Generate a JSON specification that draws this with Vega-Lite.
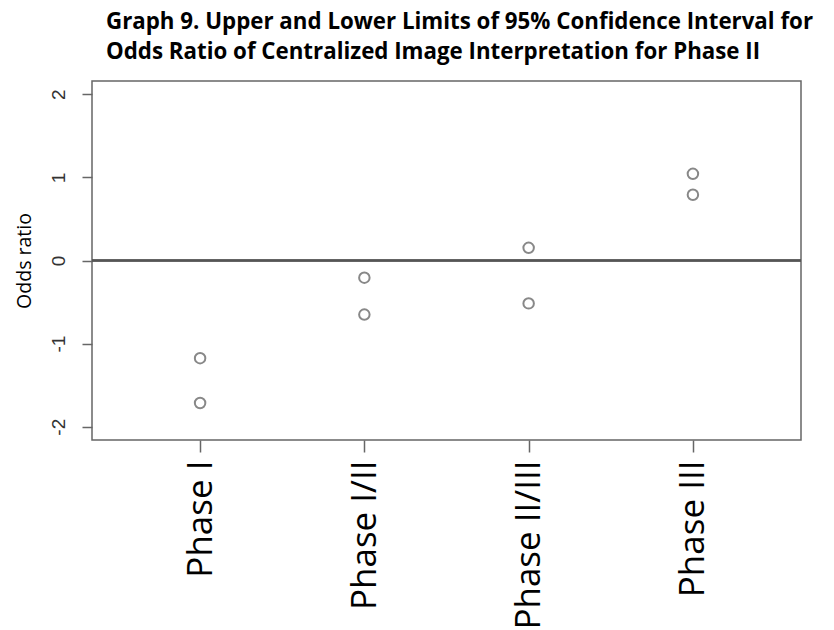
{
  "$schema": "https://vega.github.io/schema/vega-lite/v6.json",
  "autosize": "none",
  "width": 709,
  "height": 359,
  "padding": {"left": 92, "top": 81, "right": 33, "bottom": 190},
  "background": "white",
  "title": {
    "text": ["Graph 9. Upper and Lower Limits of 95% Confidence Interval for", "Odds Ratio of Centralized Image Interpretation for Phase II"],
    "anchor": "start",
    "frame": "group",
    "dx": 14,
    "offset": 18,
    "font": "Open Sans",
    "fontSize": 22.3,
    "fontWeight": "bold",
    "lineHeight": 30,
    "color": "#000000"
  },
  "data": {
    "values": [
      {"phase": "Phase I", "limit": "upper", "value": -1.175},
      {"phase": "Phase I", "limit": "lower", "value": -1.715},
      {"phase": "Phase I/II", "limit": "upper", "value": -0.207},
      {"phase": "Phase I/II", "limit": "lower", "value": -0.651},
      {"phase": "Phase II/III", "limit": "upper", "value": 0.152},
      {"phase": "Phase II/III", "limit": "lower", "value": -0.516},
      {"phase": "Phase III", "limit": "upper", "value": 1.043},
      {"phase": "Phase III", "limit": "lower", "value": 0.791}
    ]
  },
  "layer": [
    {
      "mark": {"type": "rule", "color": "#555555", "strokeWidth": 1.5},
      "encoding": {"y": {"datum": 0, "type": "quantitative"}}
    },
    {
      "mark": {"type": "point", "shape": "circle", "filled": false, "color": "#888888", "strokeWidth": 2, "size": 110, "opacity": 1},
      "encoding": {
        "x": {
          "field": "phase",
          "type": "nominal",
          "sort": ["Phase I", "Phase I/II", "Phase II/III", "Phase III"],
          "scale": {"type": "point", "padding": 0.658},
          "axis": {
            "title": null,
            "labelAngle": -90,
            "labelAlign": "right",
            "labelBaseline": "middle",
            "labelFont": "Open Sans",
            "labelFontSize": 35,
            "labelColor": "#000000",
            "labelPadding": 8,
            "domain": false,
            "tickColor": "#666666",
            "tickSize": 12,
            "tickWidth": 1.5
          }
        },
        "y": {
          "field": "value",
          "type": "quantitative",
          "scale": {"domain": [-2.16, 2.16], "nice": false, "zero": false},
          "axis": {
            "title": "Odds ratio",
            "titleFont": "Open Sans",
            "titleFontSize": 19.5,
            "titleFontWeight": "normal",
            "titleColor": "#000000",
            "titlePadding": 15,
            "values": [-2, -1, 0, 1, 2],
            "labelExpr": "'' + datum.value",
            "labelAngle": -90,
            "labelAlign": "center",
            "labelBaseline": "bottom",
            "labelFont": "Liberation Sans",
            "labelFontSize": 19,
            "labelColor": "#333333",
            "labelPadding": 14,
            "grid": false,
            "domain": false,
            "tickColor": "#666666",
            "tickSize": 10,
            "tickWidth": 1.5
          }
        }
      }
    }
  ],
  "config": {
    "view": {"stroke": "#666666", "strokeWidth": 1.5}
  }
}
